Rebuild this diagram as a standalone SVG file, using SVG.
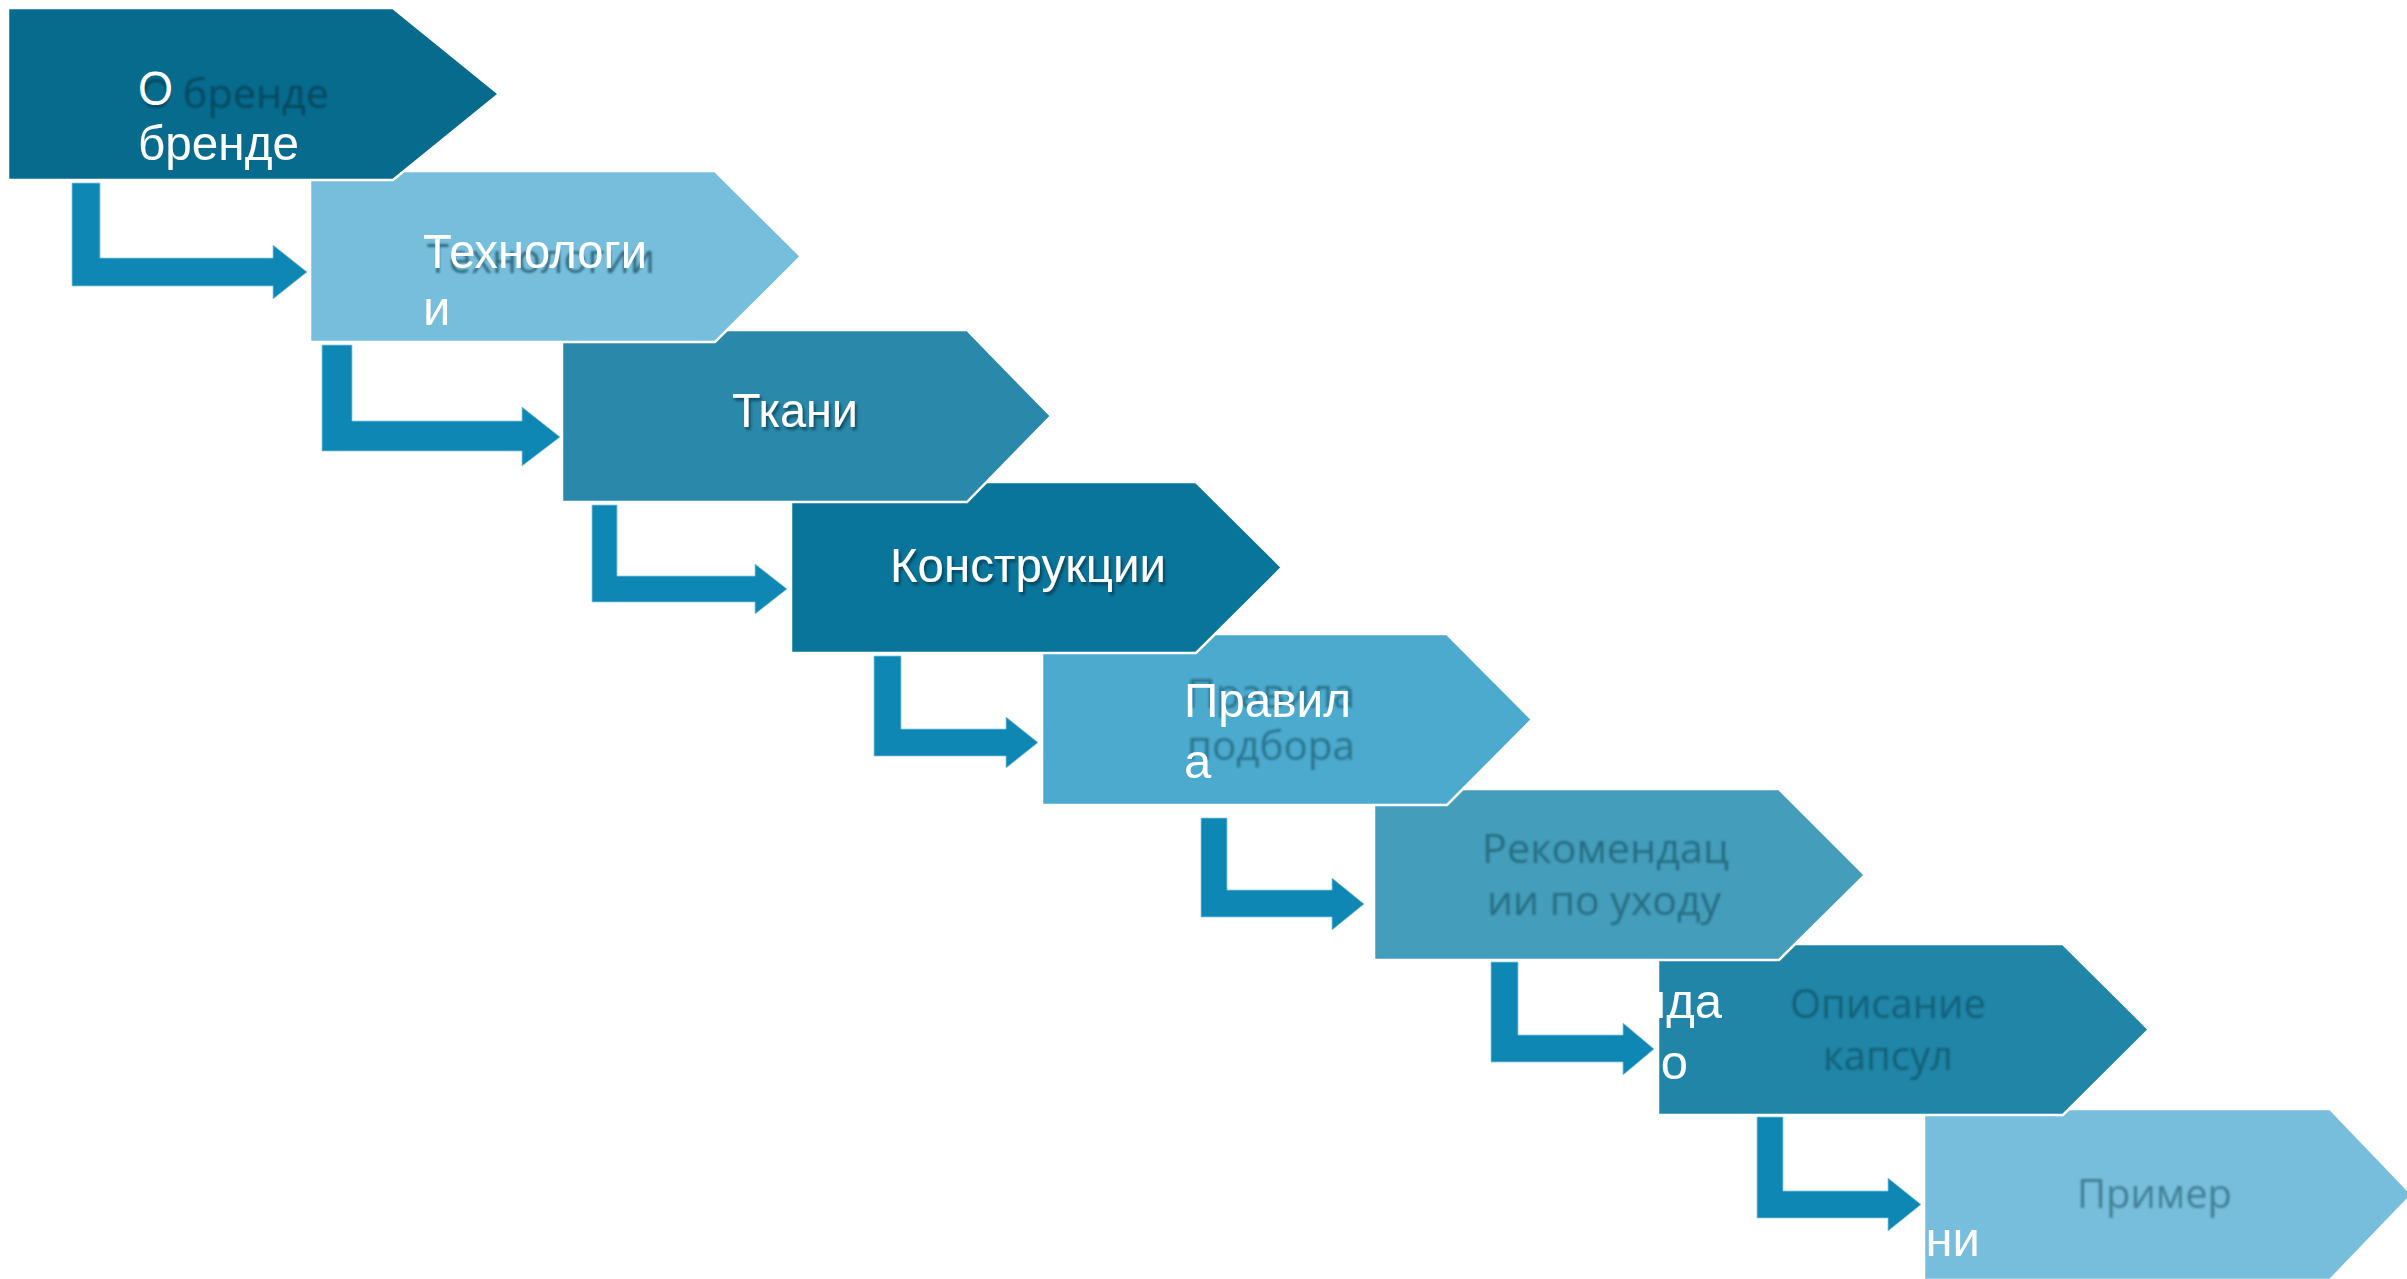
<svg xmlns="http://www.w3.org/2000/svg" width="2407" height="1279" viewBox="0 0 2407 1279">
<defs>
  <filter id="soft" x="-10%" y="-30%" width="120%" height="160%"><feGaussianBlur stdDeviation="1.3"/></filter>
  <filter id="ds" x="-10%" y="-30%" width="120%" height="170%"><feDropShadow dx="2" dy="3" stdDeviation="1.6" flood-color="#032a3a" flood-opacity="0.65"/></filter>
  <clipPath id="clip7"><rect x="1658" y="944" width="405" height="171"/></clipPath>
  <clipPath id="clip8"><rect x="1924" y="1109" width="406" height="171"/></clipPath>
</defs>
<style>
  .node { stroke: #ffffff; stroke-width: 2.5; stroke-linejoin: miter; }
  .wt { font-family: "Liberation Sans", Arial, sans-serif; font-size: 49px; fill: #ffffff; }
  .dk { font-family: "Open Sans", "Noto Sans", sans-serif; font-size: 40px; fill: #0a3040; fill-opacity: 0.45; filter: url(#soft); }
  .arrow { fill: #0e87b5; stroke: #8ccbe2; stroke-width: 0.8; }
</style>
<rect width="2407" height="1279" fill="#ffffff"/>

<g id="node8">
  <polygon class="node" fill="#77bedc" points="1924,1109 2330,1109 2412,1194.5 2330,1280 1924,1280"/>
  <text class="dk" x="2077" y="1208" textLength="155" lengthAdjust="spacingAndGlyphs">Пример</text>
</g>
<g id="node7">
  <polygon class="node" fill="#2085a7" points="1658,944 2063,944 2149,1029.5 2063,1115 1658,1115"/>
  <text class="dk" x="1790" y="1018" textLength="196" lengthAdjust="spacingAndGlyphs">Описание</text>
  <text class="dk" x="1823" y="1070" textLength="130" lengthAdjust="spacingAndGlyphs">капсул</text>
  <text class="wt" x="1980" y="1256" text-anchor="end" clip-path="url(#clip8)">ни</text>
</g>
<g id="node6">
  <polygon class="node" fill="#449dbb" points="1374,789 1779,789 1865,875 1779,960 1374,960"/>
  <text class="dk" x="1482" y="863" textLength="247" lengthAdjust="spacingAndGlyphs">Рекомендац</text>
  <text class="dk" x="1487" y="915" textLength="234" lengthAdjust="spacingAndGlyphs">ии по уходу</text>
  <text class="wt" x="1722" y="1018" text-anchor="end" clip-path="url(#clip7)">нда</text>
  <text class="wt" x="1688" y="1079" text-anchor="end" clip-path="url(#clip7)">по</text>
</g>
<g id="node5">
  <polygon class="node" fill="#4baace" points="1042,634 1447,634 1532,719.5 1447,805 1042,805"/>
  <text class="dk" x="1187" y="708" textLength="168" lengthAdjust="spacingAndGlyphs">Правила</text>
  <text class="dk" x="1187" y="760" textLength="168" lengthAdjust="spacingAndGlyphs">подбора</text>
  <text class="wt" x="1184" y="717" textLength="167" lengthAdjust="spacingAndGlyphs">Правил</text>
  <text class="wt" x="1184" y="778">а</text>
</g>
<g id="node4">
  <polygon class="node" fill="#0a759b" points="791,482 1196,482 1282,567.5 1196,653 791,653"/>
  <text class="wt" x="890" y="582" textLength="276" lengthAdjust="spacingAndGlyphs" filter="url(#ds)">Конструкции</text>
</g>
<g id="node3">
  <polygon class="node" fill="#2a89aa" points="562,330 967,330 1051,416 967,502 562,502"/>
  <text class="wt" x="732" y="427" textLength="126" lengthAdjust="spacingAndGlyphs" filter="url(#ds)">Ткани</text>
</g>
<g id="node2">
  <polygon class="node" fill="#77bedc" points="310,171 715,171 801,256.5 715,342 310,342"/>
  <text class="dk" x="427" y="273" textLength="228" lengthAdjust="spacingAndGlyphs" style="fill-opacity:0.6">Технологии</text>
  <text class="wt" x="423" y="268" textLength="224" lengthAdjust="spacingAndGlyphs">Технологи</text>
  <text class="wt" x="423" y="325">и</text>
</g>
<g id="node1">
  <polygon class="node" fill="#076b8e" points="8,8 393,8 499,94 393,180 8,180"/>
  <text class="dk" x="140" y="108" textLength="189" lengthAdjust="spacingAndGlyphs" style="fill-opacity:0.6">О бренде</text>
  <text class="wt" x="138" y="105" textLength="35" lengthAdjust="spacingAndGlyphs">О</text>
  <text class="wt" x="138" y="160" textLength="161" lengthAdjust="spacingAndGlyphs">бренде</text>
</g>

<g id="connectors">
  <path class="arrow" d="M72,183 H100 V258 H273 V245 L307,272 L273,299 V286 H72 Z"/>
  <path class="arrow" d="M322,345 H352 V421 H522 V407 L560,437 L522,466 V451 H322 Z"/>
  <path class="arrow" d="M592,505 H617 V576 H755 V564 L787,589 L755,614 V602 H592 Z"/>
  <path class="arrow" d="M874,656 H901 V729 H1006 V717 L1038,742.5 L1006,768 V756 H874 Z"/>
  <path class="arrow" d="M1201,818 H1227 V890 H1332 V878 L1364,904 L1332,930 V917 H1201 Z"/>
  <path class="arrow" d="M1491,962 H1518 V1035 H1623 V1023 L1654,1049 L1623,1075 V1062 H1491 Z"/>
  <path class="arrow" d="M1757,1117 H1783 V1191 H1888 V1178 L1921,1204.5 L1888,1231 V1218 H1757 Z"/>
</g>
</svg>
